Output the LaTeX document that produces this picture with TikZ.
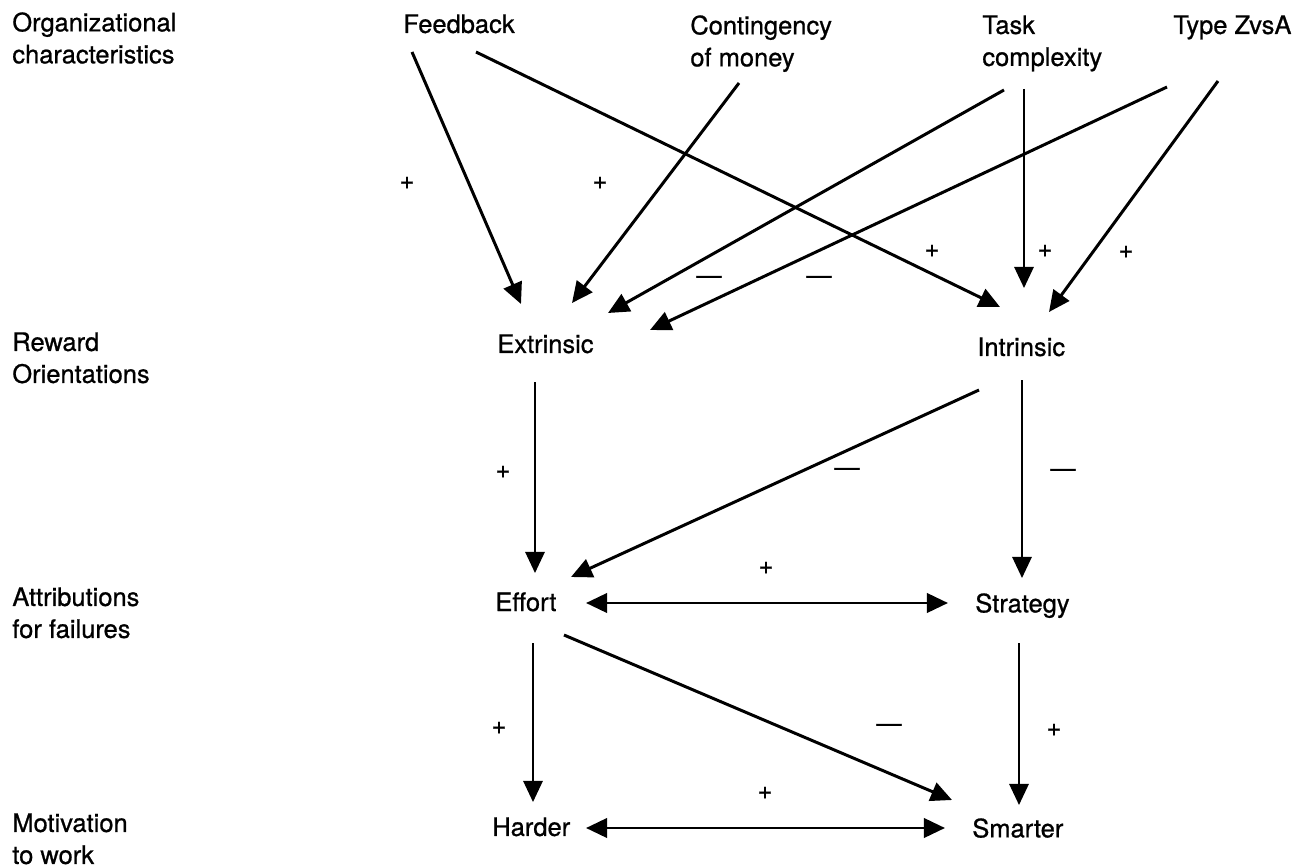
\documentclass[tikz,border=0pt]{standalone}
\usepackage{fontspec}
\setmainfont{TeX Gyre Heros}[FakeBold=0.8]
\usepackage{tikz}
\usetikzlibrary{arrows.meta}

\tikzset{
  lbl/.style={anchor=north west,inner sep=0pt,align=left,font=\fontsize{14.5}{18.2}\selectfont},
  sgn/.style={inner sep=0pt,font=\fontsize{14.5}{18.2}\selectfont},
  arr/.style={-{Triangle[length=12pt,width=11pt]},line width=1.7pt},
  varr/.style={arr,line width=1.2pt},
  dbl/.style={{Triangle[length=12pt,width=11pt]}-{Triangle[length=12pt,width=11pt]},line width=1.7pt}
}

\begin{document}
\begin{tikzpicture}[x=0.02cm,y=-0.02cm]
\useasboundingbox (0,0) rectangle (1312,868);
% row titles
\node[lbl] (org) at (12,12) {Organizational\\characteristics};
\node[lbl] (reward) at (12,332) {Reward\\Orientations};
\node[lbl] (attrib) at (12,587) {Attributions\\for failures};
\node[lbl] (motiv) at (12,813) {Motivation\\to work};
% variables
\node[lbl] (feedback) at (403,14) {Feedback};
\node[lbl] (money) at (690,15) {Contingency\\of money};
\node[lbl] (task) at (982,15) {Task\\complexity};
\node[lbl] (type) at (1173,15) {Type ZvsA};
\node[lbl] (extrinsic) at (497,334) {Extrinsic};
\node[lbl] (intrinsic) at (977,337) {Intrinsic};
\node[lbl] (effort) at (495,592) {Effort};
\node[lbl] (strategy) at (975,593) {Strategy};
\node[lbl] (harder) at (492,817) {Harder};
\node[lbl] (smarter) at (972,818) {Smarter};
% signs
\node[sgn] (s1) at (407,183) {+};
\node[sgn] (s2) at (600,183) {+};
\node[sgn] (s3) at (709,280) {\textemdash};
\node[sgn] (s4) at (819,280) {\textemdash};
\node[sgn] (s5) at (932,251) {+};
\node[sgn] (s6) at (1045,251) {+};
\node[sgn] (s7) at (1126,252) {+};
\node[sgn] (s8) at (503,472) {+};
\node[sgn] (s9) at (847,472) {\textemdash};
\node[sgn] (s10) at (1063,473) {\textemdash};
\node[sgn] (s11) at (766,568) {+};
\node[sgn] (s12) at (499,728) {+};
\node[sgn] (s13) at (889,728) {\textemdash};
\node[sgn] (s14) at (1054,730) {+};
\node[sgn] (s15) at (765,793) {+};
% organizational -> reward
\draw[arr] ([shift={(9,38)}]feedback.north west) -- ([shift={(24,-30)}]extrinsic.north west);
\draw[arr] ([shift={(73,38)}]feedback.north west) -- ([shift={(23,-30)}]intrinsic.north west);
\draw[arr] ([shift={(49,68)}]money.north west) -- ([shift={(75,-31)}]extrinsic.north west);
\draw[arr] ([shift={(22,75)}]task.north west) -- ([shift={(111,-21)}]extrinsic.north west);
\draw[varr] ([shift={(42,74)}]task.north west) -- ([shift={(47,-49)}]intrinsic.north west);
\draw[arr] ([shift={(-6,72)}]type.north west) -- ([shift={(153,-4)}]extrinsic.north west);
\draw[arr] ([shift={(45,66)}]type.north west) -- ([shift={(72,-25)}]intrinsic.north west);
% reward -> attributions
\draw[varr] ([shift={(38,48)}]extrinsic.north west) -- ([shift={(40,-19)}]effort.north west);
\draw[arr] ([shift={(2,53)}]intrinsic.north west) -- ([shift={(76,-15)}]effort.north west);
\draw[varr] ([shift={(45,43)}]intrinsic.north west) -- ([shift={(47,-15)}]strategy.north west);
\draw[dbl] ([shift={(91,11)}]effort.north west) -- ([shift={(-27,10)}]strategy.north west);
% attributions -> motivation
\draw[varr] ([shift={(38,51)}]effort.north west) -- ([shift={(41,-15)}]harder.north west);
\draw[arr] ([shift={(69,43)}]effort.north west) -- ([shift={(-20,-18)}]smarter.north west);
\draw[varr] ([shift={(44,50)}]strategy.north west) -- ([shift={(47,-13)}]smarter.north west);
\draw[dbl] ([shift={(94,11)}]harder.north west) -- ([shift={(-27,10)}]smarter.north west);
\end{tikzpicture}
\end{document}
